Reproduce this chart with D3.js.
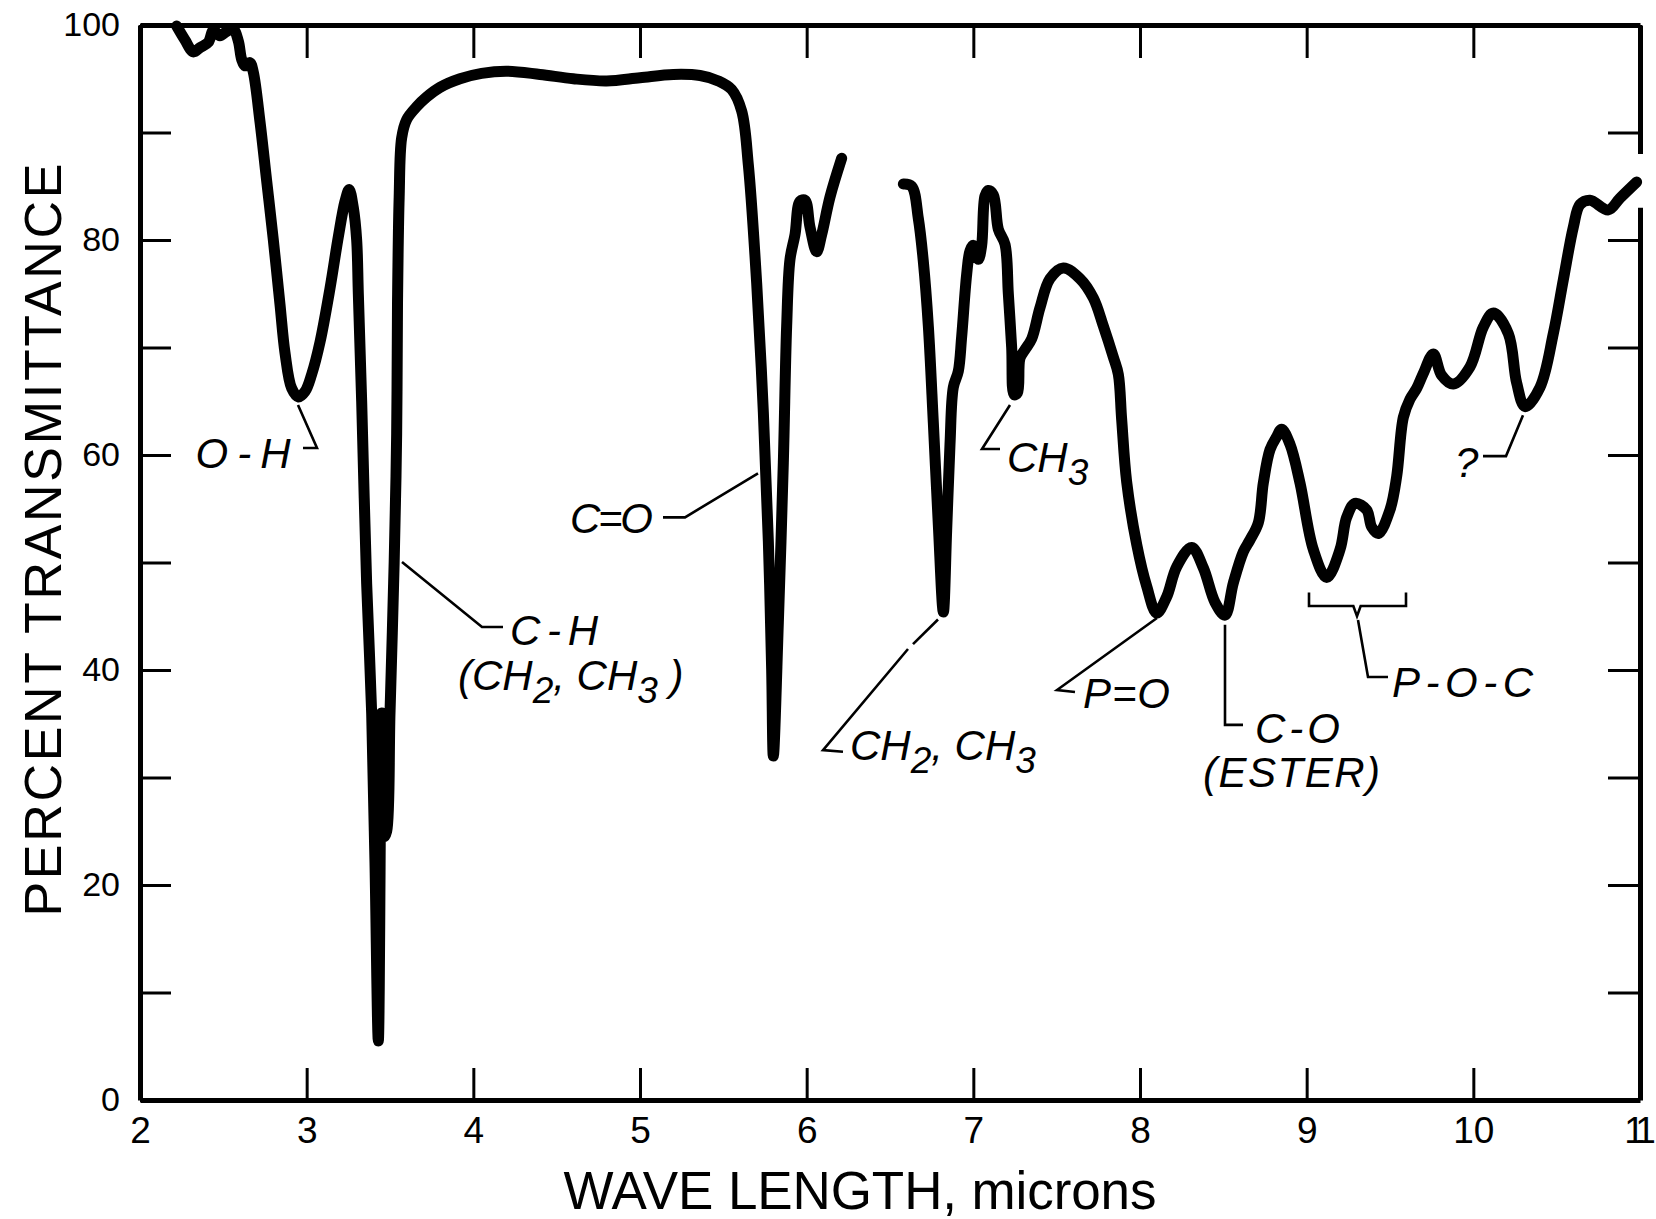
<!DOCTYPE html>
<html>
<head>
<meta charset="utf-8">
<script src="https://cdn.jsdelivr.net/npm/d3@7"></script>
<style>
  html, body { margin: 0; padding: 0; background: #fff; }
  svg { display: block; }
</style>
</head>
<body>
<div id="chart"></div>
<script>
// --- spectrum: wavelength (microns) / % transmittance ---
const wave1 = [
  2.22, 2.27, 2.32, 2.36, 2.41, 2.44, 2.48, 2.52, 2.56, 2.59,
  2.61, 2.63, 2.66, 2.68, 2.72, 2.76, 2.80, 2.84, 2.87, 2.91,
  2.95, 2.99, 3.03, 3.08, 3.14, 3.19, 3.23, 3.255, 3.28, 3.30,
  3.31, 3.33, 3.36, 3.39, 3.41, 3.43, 3.45, 3.465, 3.48, 3.50,
  3.525, 3.54, 3.545, 3.555, 3.57, 3.60, 3.66, 3.72, 3.80, 3.92,
  4.05, 4.20, 4.40, 4.60, 4.80, 5.00, 5.20, 5.36, 5.47, 5.55,
  5.61, 5.65, 5.70, 5.74, 5.77, 5.79, 5.80, 5.83, 5.86, 5.88,
  5.90, 5.93, 5.96, 5.99, 6.02, 6.06, 6.09, 6.14, 6.21
];
const trans1 = [
  99.9, 98.6, 97.5, 97.9, 98.4, 99.5, 99.0, 99.4, 99.6, 98.5,
  96.8, 96.2, 96.5, 95.6, 91.0, 85.5, 80.0, 74.0, 69.5, 66.2,
  65.4, 65.9, 67.5, 70.5, 75.5, 80.3, 83.6, 84.7, 83.0, 80.0,
  75.0, 65.0, 48.0, 36.0, 22.0, 5.5, 36.0, 24.5, 25.0, 36.0,
  50.0, 62.0, 74.0, 84.0, 89.5, 91.2, 92.4, 93.3, 94.2, 95.0,
  95.5, 95.7, 95.4, 95.0, 94.8, 95.1, 95.4, 95.3, 94.8, 94.0,
  92.0, 87.0, 76.0, 64.0, 52.0, 40.0, 32.0, 44.4, 59.3, 72.0,
  78.2, 80.5, 83.6, 83.7, 81.2, 78.9, 80.5, 84.0, 87.6
];
const wave2 = [
  6.58, 6.63, 6.67, 6.70, 6.73, 6.76, 6.79, 6.82, 6.84, 6.86,
  6.88, 6.91, 6.93, 6.96, 6.98, 7.00, 7.03, 7.05, 7.07, 7.09,
  7.12, 7.15, 7.19, 7.21, 7.23, 7.245, 7.265, 7.28, 7.31, 7.35,
  7.40, 7.46, 7.54, 7.64, 7.72, 7.78, 7.84, 7.87, 7.89, 7.92,
  7.98, 8.04, 8.10, 8.16, 8.22, 8.31, 8.38, 8.45, 8.51, 8.56,
  8.62, 8.66, 8.71, 8.74, 8.78, 8.82, 8.85, 8.90, 8.96, 9.04,
  9.12, 9.20, 9.24, 9.29, 9.36, 9.39, 9.43, 9.50, 9.54, 9.58,
  9.62, 9.66, 9.70, 9.76, 9.81, 9.88, 9.98, 10.06, 10.12, 10.21,
  10.26, 10.31, 10.40, 10.48, 10.54, 10.60, 10.64, 10.70, 10.81, 10.88,
  10.98
];
const trans2 = [
  85.2, 85.0, 82.0, 78.0, 72.0, 63.0, 53.5, 45.4, 53.0, 61.0,
  66.3, 67.8, 71.0, 76.8, 79.0, 79.5, 78.2, 79.5, 84.1, 84.6,
  84.2, 81.0, 79.6, 75.0, 70.0, 65.6, 65.8, 69.0, 69.8, 70.8,
  73.7, 76.4, 77.4, 76.4, 74.6, 72.0, 69.1, 67.5, 63.3, 57.5,
  51.7, 47.8, 45.3, 46.8, 49.6, 51.4, 49.5, 46.3, 45.1, 48.1,
  51.0, 52.1, 53.7, 57.4, 60.5, 61.7, 62.4, 61.0, 57.4, 51.2,
  48.6, 51.2, 54.2, 55.5, 54.9, 53.3, 52.7, 54.9, 58.0, 63.5,
  65.2, 66.2, 67.6, 69.4, 67.4, 66.6, 68.2, 71.9, 73.2, 71.3,
  66.7, 64.5, 66.3, 71.3, 76.3, 81.2, 83.3, 83.7, 82.8, 83.9,
  85.4
];

// --- ticks ---
const xTicks = [2, 3, 4, 5, 6, 7, 8, 9, 10, 11];
const yTicks = [0, 10, 20, 30, 40, 50, 60, 70, 80, 90, 100];
const yLabelled = [0, 20, 40, 60, 80, 100];

// --- band labels: text parts ([text, subscript?]), text start (micron, %T), leader polylines ---
// len = forced width in px (only for labels without subscripts)
const notes = [
  { parts: [["O-H", 0]], at: [2.618, 58.8], anchor: "middle", len: 95,
    leaders: [[[2.978, 60.65], [3.062, 60.65], [2.948, 64.65]]] },
  { parts: [["C-H", 0]], at: [4.22, 42.3], anchor: "start", len: 88,
    leaders: [[[3.572, 50.05], [4.052, 44.0], [4.178, 44.0]]] },
  { parts: [["(CH", 0], ["2", 1], [", CH", 0], ["3", 1], [" )", 0]], at: [3.908, 38.1], anchor: "start", len: 0,
    leaders: [] },
  { parts: [["C=O", 0]], at: [4.58, 52.7], anchor: "start", len: 83,
    leaders: [[[5.138, 54.2], [5.27, 54.2], [5.708, 58.3]]] },
  { parts: [["CH", 0], ["2", 1], [",  CH", 0], ["3", 1]], at: [6.26, 31.6], anchor: "start", len: 0,
    leaders: [[[6.788, 44.7], [6.638, 42.4]], [[6.608, 41.95], [6.098, 32.55], [6.218, 32.4]]] },
  { parts: [["CH", 0], ["3", 1]], at: [7.202, 58.4], anchor: "start", len: 0,
    leaders: [[[7.22, 64.65], [7.052, 60.56], [7.16, 60.56]]] },
  { parts: [["P=O", 0]], at: [7.658, 36.5], anchor: "start", len: 87,
    leaders: [[[8.102, 44.84], [7.502, 38.14], [7.61, 37.95]]] },
  { parts: [["C-O", 0]], at: [8.69, 33.2], anchor: "start", len: 85,
    leaders: [[[8.51, 44.2], [8.51, 34.9], [8.618, 34.9]]] },
  { parts: [["(ESTER)", 0]], at: [8.378, 29.1], anchor: "start", len: 177,
    leaders: [] },
  { parts: [["P-O-C", 0]], at: [9.512, 37.5], anchor: "start", len: 141,
    leaders: [[[9.014, 47.2], [9.014, 45.95], [9.28, 45.95], [9.302, 45.0], [9.324, 45.95], [9.596, 45.95], [9.596, 47.2]],
              [[9.308, 44.65], [9.368, 39.35], [9.488, 39.35]]] },
  { parts: [["?", 0]], at: [9.89, 57.95], anchor: "start", len: 30,
    leaders: [[[10.058, 59.9], [10.196, 59.9], [10.298, 63.7]]] }
];

// --- page & scales ---
const width = 1656;
const height = 1219;

const svg = d3
  .select("#chart")
  .append("svg")
  .attr("width", width)
  .attr("height", height)
  .style("background", "#fff");

const x = d3.scaleLinear().domain([2, 11]).range([140, 1640]);
const y = d3.scaleLinear().domain([0, 100]).range([1100, 25]);

const font = "'Liberation Sans', Arial, sans-serif";

// --- frame + inward ticks ---
function styleAxis(g, size) {
  g.select(".domain").attr("stroke", "#000").attr("stroke-width", 5);
  g.selectAll(".tick line").attr("stroke", "#000").attr("stroke-width", 3);
  g.selectAll(".tick text")
    .attr("fill", "#000")
    .style("font-family", font)
    .style("font-size", size + "px");
}

svg.append("g")
  .attr("transform", `translate(0,${y(0)})`)
  .call(d3.axisBottom(x).tickValues(xTicks).tickSizeInner(-32).tickSizeOuter(0)
    .tickPadding(17).tickFormat(d3.format("d")))
  .call((g) => styleAxis(g, 37))
  .call((g) => g.selectAll(".tick text")
    .filter((d) => d === 11)
    .attr("dx", -4)
    .style("letter-spacing", "-7px"));

svg.append("g")
  .attr("transform", `translate(0,${y(100)})`)
  .call(d3.axisTop(x).tickValues(xTicks).tickSizeInner(-33).tickSizeOuter(0).tickFormat(""))
  .call((g) => styleAxis(g, 10));

svg.append("g")
  .attr("transform", `translate(${x(2)},0)`)
  .call(d3.axisLeft(y).tickValues(yTicks).tickSizeInner(-31).tickSizeOuter(0)
    .tickPadding(20).tickFormat((d) => (yLabelled.includes(d) ? d : "")))
  .call((g) => styleAxis(g, 34));

svg.append("g")
  .attr("transform", `translate(${x(11)},0)`)
  .call(d3.axisRight(y).tickValues(yTicks).tickSizeInner(-32).tickSizeOuter(0).tickFormat(""))
  .call((g) => styleAxis(g, 10));

// gap in the right frame where the trace runs off the chart
svg.append("rect")
  .attr("x", x(11) - 6)
  .attr("y", y(88))
  .attr("width", 14)
  .attr("height", y(83) - y(88))
  .attr("fill", "#fff");

// --- spectrum trace ---
const line = d3
  .line()
  .x((d) => x(d[0]))
  .y((d) => y(d[1]))
  .curve(d3.curveCatmullRom.alpha(0.5));

[d3.zip(wave1, trans1), d3.zip(wave2, trans2)].forEach((seg) => {
  svg.append("path")
    .datum(seg)
    .attr("d", line)
    .attr("fill", "none")
    .attr("stroke", "#000")
    .attr("stroke-width", 11)
    .attr("stroke-linecap", "round")
    .attr("stroke-linejoin", "round");
});

// --- band labels ---
const leaderLine = d3.line().x((d) => x(d[0])).y((d) => y(d[1]));

notes.forEach((n) => {
  n.leaders.forEach((pts) => {
    svg.append("path")
      .attr("d", leaderLine(pts))
      .attr("fill", "none")
      .attr("stroke", "#000")
      .attr("stroke-width", 2.6);
  });

  const t = svg.append("text")
    .attr("x", x(n.at[0]))
    .attr("y", y(n.at[1]))
    .attr("text-anchor", n.anchor)
    .style("font-family", font)
    .style("font-style", "italic")
    .style("font-size", "42px")
    .attr("fill", "#000");

  if (n.len) t.attr("textLength", n.len).attr("lengthAdjust", "spacing");

  let down = 0;
  n.parts.forEach(([txt, sub]) => {
    const shift = sub ? 13 : 0;
    const s = t.append("tspan").attr("dy", shift - down).text(txt);
    if (sub) s.style("font-size", "37px");
    down = shift;
  });
});

// --- axis titles ---
svg.append("text")
  .attr("transform", "translate(61,540) rotate(-90)")
  .attr("text-anchor", "middle")
  .attr("textLength", 753)
  .attr("lengthAdjust", "spacing")
  .style("font-family", font)
  .style("font-size", "52px")
  .attr("fill", "#000")
  .text("PERCENT TRANSMITTANCE");

svg.append("text")
  .attr("x", 860)
  .attr("y", 1209)
  .attr("text-anchor", "middle")
  .attr("textLength", 593)
  .attr("lengthAdjust", "spacing")
  .style("font-family", font)
  .style("font-size", "53px")
  .attr("fill", "#000")
  .text("WAVE LENGTH, microns");
</script>
</body>
</html>
